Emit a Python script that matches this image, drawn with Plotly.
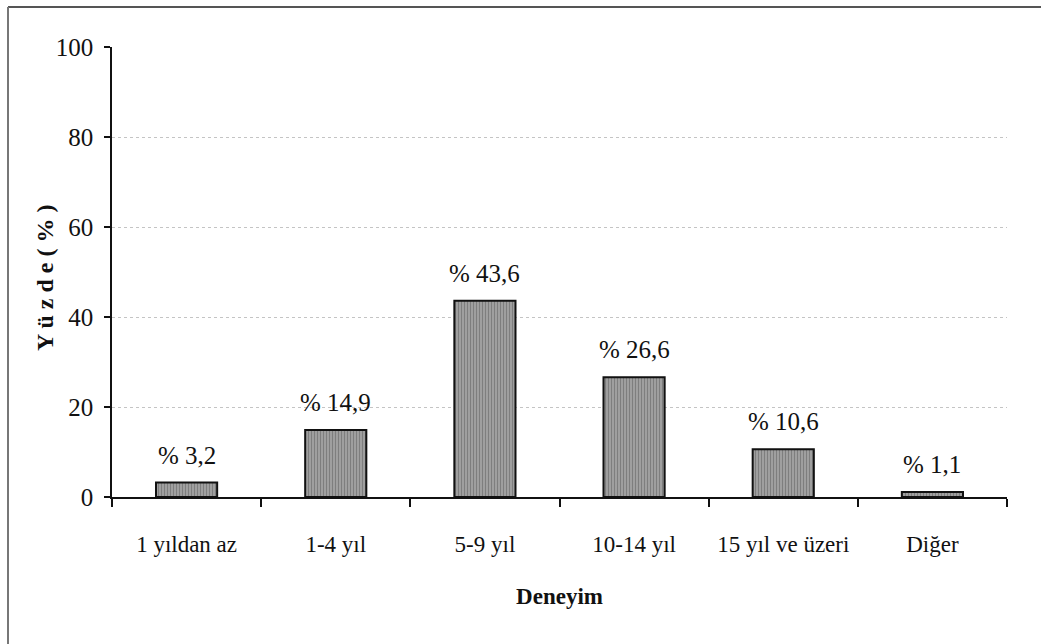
import plotly.graph_objects as go

categories = ["1 yıldan az", "1-4 yıl", "5-9 yıl", "10-14 yıl", "15 yıl ve üzeri", "Diğer"]
values = [3.2, 14.9, 43.6, 26.6, 10.6, 1.1]
y_ticks = [0, 20, 40, 60, 80, 100]

W, H = 1041, 644
ML, MR, MT, MB = 112, 34, 47, 147
FONT = "Liberation Serif, Times New Roman, serif"

fig = go.Figure()
fig.add_trace(go.Bar(
    x=categories,
    y=values,
    width=0.41,
    marker=dict(
        color="#8f8f8f",
        line=dict(color="#111111", width=2),
        pattern=dict(shape="|", fgcolor="#5a5a5a", bgcolor="#a2a2a2", size=3, solidity=0.4),
    ),
    hoverinfo="skip",
))

for c, v in zip(categories, values):
    fig.add_annotation(
        x=c, y=v, text="% " + f"{v:.1f}".replace(".", ","),
        showarrow=False, yanchor="bottom", yshift=12,
        font=dict(family=FONT, size=25, color="#111111"),
    )

# page frame (left and top edges)
pw = W - ML - MR
ph = H - MT - MB
def px(x):
    return (x - ML) / pw
def py(y):
    return (H - MB - y) / ph

fig.add_shape(type="line", xref="paper", yref="paper",
              x0=px(8), x1=px(W), y0=py(7), y1=py(7),
              line=dict(color="#555555", width=2))
fig.add_shape(type="line", xref="paper", yref="paper",
              x0=px(8), x1=px(8), y0=py(7), y1=py(H),
              line=dict(color="#777777", width=2))

# vertical axis title
fig.add_annotation(
    xref="paper", yref="paper", x=px(45), y=py(278),
    text="<b>Y ü z d e ( % )</b>", textangle=-90, showarrow=False,
    xanchor="center", yanchor="middle",
    font=dict(family=FONT, size=24, color="#111111"),
)

fig.update_layout(
    width=W, height=H,
    margin=dict(l=ML, r=MR, t=MT, b=MB, pad=0),
    paper_bgcolor="white",
    plot_bgcolor="white",
    showlegend=False,
    font=dict(family=FONT, color="#111111"),
    xaxis=dict(
        type="category",
        tickson="boundaries",
        ticks="outside", ticklen=8, tickwidth=1.5, tickcolor="#111111",
        showline=True, linecolor="#111111", linewidth=1.5,
        showgrid=False,
        tickfont=dict(family=FONT, size=23, color="#111111"),
        ticklabelstandoff=26,
        title=dict(text="<b>Deneyim</b>", font=dict(family=FONT, size=23, color="#111111"), standoff=32),
    ),
    yaxis=dict(
        range=[0, 100],
        tickvals=y_ticks,
        ticks="outside", ticklen=6, tickwidth=1.5, tickcolor="#111111",
        showline=True, linecolor="#111111", linewidth=1.5,
        showgrid=True, gridcolor="#c4c4c4", griddash="dot", gridwidth=1,
        zeroline=False,
        tickfont=dict(family=FONT, size=25, color="#111111"),
        ticklabelstandoff=6,
    ),
)

fig.write_html("out.html")
